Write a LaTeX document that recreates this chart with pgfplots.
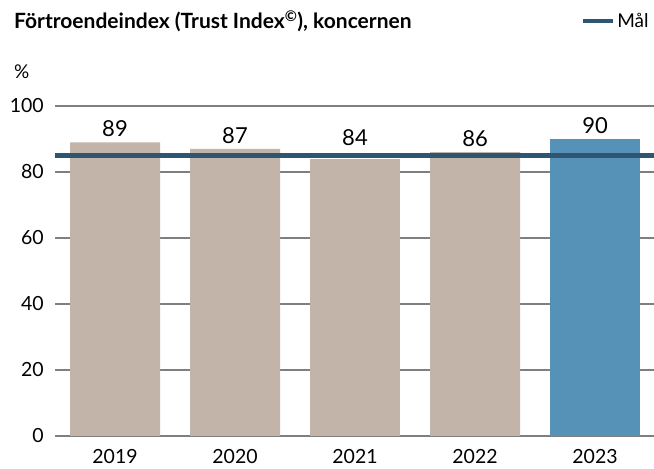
\documentclass[border=0pt]{standalone}
\usepackage{pgfplots}
\pgfplotsset{compat=1.18}
\usepackage{fontspec}
\setmainfont{Lato}
\definecolor{beige}{HTML}{C2B4A8}
\definecolor{blueb}{HTML}{5692B7}
\definecolor{target}{HTML}{2E5670}
\definecolor{gridc}{HTML}{7F7F7F}
\begin{document}
\begin{tikzpicture}[x=1bp,y=1bp]
\useasboundingbox (0,0) rectangle (654,469);
\node[anchor=base west, inner sep=0, font=\fontsize{21bp}{23bp}\selectfont\bfseries] at (14,440) {Förtroendeindex (Trust Index\textsuperscript{©}), koncernen};
\node[anchor=base west, inner sep=0, font=\fontsize{19bp}{21bp}\selectfont] at (14,390) {\%};
\begin{axis}[
    at={(55bp,33bp)}, anchor=south west,
    scale only axis,
    width=600bp, height=330bp,
    xmin=-0.5, xmax=4.5,
    ymin=0, ymax=100,
    ytick={0,20,40,60,80,100},
    xtick={0,1,2,3,4},
    xticklabels={2019,2020,2021,2022,2023},
    major tick length=0pt,
    axis line style={draw=none},
    ymajorgrids,
    grid style={gridc, line width=1.2bp},
    /pgf/number format/assume math mode=true,
    tick label style={font=\fontsize{19.5bp}{21bp}\selectfont, text=black},
    yticklabel style={anchor=east, inner sep=0pt, xshift=-11bp},
    xticklabel style={anchor=north, inner sep=0pt, yshift=-13bp},
    ybar, bar width=90bp,
    nodes near coords,
    every node near coord/.append style={font=\fontsize{22bp}{24bp}\selectfont, text=black, yshift=2bp},
    legend style={at={(axis description cs:0.876,1.258)}, anchor=west, draw=none, fill=none,
        font=\fontsize{19bp}{21bp}\selectfont, inner sep=0pt, row sep=0pt},
    legend image code/.code={\draw[#1, line width=4.5bp] (0bp,0bp) -- (30bp,0bp);},
    clip=false,
]
\addplot[bar shift=0pt, fill=beige, draw=none, forget plot] coordinates {(0,89) (1,87) (3,86)};
\addplot[bar shift=0pt, fill=beige, draw=none, forget plot,
    every node near coord/.append style={yshift=7.3bp}] coordinates {(2,84)};
\addplot[bar shift=0pt, fill=blueb, draw=none, forget plot] coordinates {(4,90)};
\addplot[sharp plot, target, line width=5bp, nodes near coords={}, no markers] coordinates {(-0.5,85) (4.5,85)};
\addlegendentry{Mål}
\end{axis}
\end{tikzpicture}
\end{document}
